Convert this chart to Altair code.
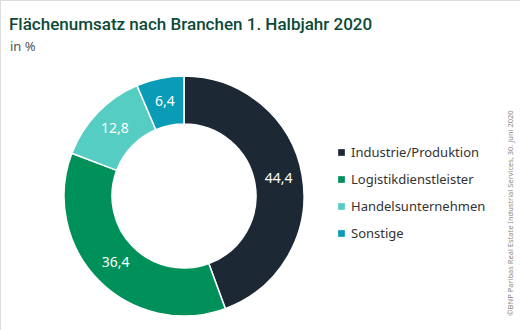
import altair as alt
import pandas as pd

categories = ["Industrie/Produktion", "Logistikdienstleister", "Handelsunternehmen", "Sonstige"]
values = [44.4, 36.4, 12.8, 6.4]
labels = ["44,4", "36,4", "12,8", "6,4"]
colors = ["#1c2935", "#00905a", "#56cdc2", "#0a9cb6"]

df = pd.DataFrame({"Branche": categories, "Wert": values, "Label": labels, "Ordnung": list(range(len(categories)))})

FONT = "Noto Sans"

base = alt.Chart(df).encode(
    theta=alt.Theta("Wert:Q", stack=True),
    order=alt.Order("Ordnung:O", sort="ascending"),
)

arcs = base.mark_arc(innerRadius=72, outerRadius=120, stroke="white", strokeWidth=1.5).encode(
    x=alt.value(184), y=alt.value(196),
    color=alt.Color(
        "Branche:N",
        scale=alt.Scale(domain=categories, range=colors),
        sort=categories,
        legend=alt.Legend(
            title=None, orient="none", legendX=335, legendY=146,
            symbolType="square", symbolSize=45, symbolStrokeWidth=0,
            labelFont=FONT, labelFontSize=13, labelColor="#333333",
            rowPadding=13, labelOffset=3,
        ),
    ),
)

texts = base.mark_text(radius=96, font=FONT, fontSize=14, color="white").encode(
    x=alt.value(184), y=alt.value(196), text="Label:N"
)

title_df = pd.DataFrame({"t": ["Flächenumsatz nach Branchen 1. Halbjahr 2020"]})
sub_df = pd.DataFrame({"t": ["in %"]})
src_df = pd.DataFrame({"t": ["©BNP Paribas Real Estate Industrial Services, 30. Juni 2020"]})

title = alt.Chart(title_df).mark_text(
    align="left", baseline="alphabetic", font="Roboto", fontSize=17, fontWeight=500, color="#0b4a37"
).encode(x=alt.value(9), y=alt.value(30), text="t:N")

sub = alt.Chart(sub_df).mark_text(
    align="left", baseline="alphabetic", font=FONT, fontSize=13, color="#555555"
).encode(x=alt.value(10), y=alt.value(51), text="t:N")

src = alt.Chart(src_df).mark_text(
    align="center", baseline="middle", font=FONT, fontSize=7.5, color="#888888", angle=270
).encode(x=alt.value(511), y=alt.value(213), text="t:N")

chart = alt.layer(arcs, texts, title, sub, src).properties(
    width=520, height=330,
    autosize=alt.AutoSizeParams(type="none"),
    padding=0,
).configure_view(stroke=None).configure(background="white")

chart.save("out.html", embed_options={"renderer": "svg", "actions": False})
